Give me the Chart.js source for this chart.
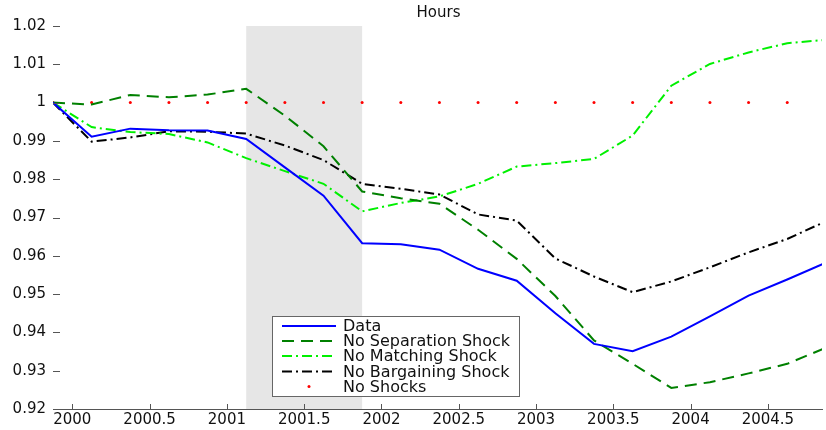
<!DOCTYPE html>
<html>
<head>
<meta charset="utf-8">
<title>Hours</title>
<script src="https://cdn.jsdelivr.net/npm/chart.js@4/dist/chart.umd.min.js"></script>
<style>
  html, body { margin: 0; padding: 0; background: #fff; }
  #hoursChart { display: block; }
</style>
</head>
<body>
<canvas id="hoursChart" width="826" height="430"></canvas>
<script>
// quarterly observations
const quarters = [1999.875, 2000.125, 2000.375, 2000.625, 2000.875, 2001.125, 2001.375,
  2001.625, 2001.875, 2002.125, 2002.375, 2002.625, 2002.875, 2003.125, 2003.375,
  2003.625, 2003.875, 2004.125, 2004.375, 2004.625, 2004.875];

const dataHours = [1.0, 0.9911, 0.9932, 0.9928, 0.9927, 0.9905, 0.9831, 0.9757, 0.9633,
  0.9630, 0.9616, 0.9566, 0.9535, 0.9450, 0.9370, 0.9351, 0.9389, 0.9442, 0.9496, 0.9538, 0.9582];
const noSeparation = [1.0, 0.9995, 1.0020, 1.0014, 1.0021, 1.0036, 0.9966, 0.9886, 0.9768,
  0.9750, 0.9736, 0.9668, 0.9592, 0.9495, 0.9379, 0.9318, 0.9255, 0.9270, 0.9293, 0.9318, 0.9360];
const noMatching = [1.0, 0.9936, 0.9923, 0.9918, 0.9896, 0.9855, 0.9821, 0.9788, 0.9716,
  0.9738, 0.9755, 0.9788, 0.9833, 0.9842, 0.9853, 0.9914, 1.0044, 1.0101, 1.0131, 1.0155, 1.0164];
const noBargaining = [1.0, 0.9898, 0.9909, 0.9925, 0.9924, 0.9919, 0.9888, 0.9850, 0.9788,
  0.9775, 0.9760, 0.9708, 0.9692, 0.9593, 0.9546, 0.9505, 0.9533, 0.9570, 0.9609, 0.9644, 0.9690];
const noShocks = [1, 1, 1, 1, 1, 1, 1, 1, 1, 1, 1, 1, 1, 1, 1, 1, 1, 1, 1, 1, 1];

const xTicks = [2000, 2000.5, 2001, 2001.5, 2002, 2002.5, 2003, 2003.5, 2004, 2004.5];
const xTickLabels = ['2000', '2000.5', '2001', '2001.5', '2002', '2002.5', '2003', '2003.5', '2004', '2004.5'];
const yTicks = [0.92, 0.93, 0.94, 0.95, 0.96, 0.97, 0.98, 0.99, 1, 1.01, 1.02];
const yTickLabels = ['0.92', '0.93', '0.94', '0.95', '0.96', '0.97', '0.98', '0.99', '1', '1.01', '1.02'];

// recession band
const recession = [2001.125, 2001.875];

const FONT = '"DejaVu Sans", sans-serif';

function pts(values) {
  return values.map((v, i) => ({ x: quarters[i], y: v }));
}

// grey recession band behind the lines
const bandPlugin = {
  id: 'band',
  beforeDatasetsDraw(chart) {
    const { ctx, chartArea, scales } = chart;
    const x0 = scales.x.getPixelForValue(recession[0]);
    const x1 = scales.x.getPixelForValue(recession[1]);
    ctx.save();
    ctx.fillStyle = '#e6e6e6';
    ctx.fillRect(x0, chartArea.top, x1 - x0, chartArea.bottom - chartArea.top);
    ctx.restore();
  }
};

// title, inward ticks and the legend box
const decorPlugin = {
  id: 'decor',
  afterDraw(chart) {
    const { ctx, chartArea, scales } = chart;
    ctx.save();
    ctx.fillStyle = '#111';
    ctx.font = '15px ' + FONT;
    ctx.textAlign = 'center';
    ctx.textBaseline = 'middle';
    ctx.fillText('Hours', (chartArea.left + chartArea.right) / 2 + 1, 13);

    ctx.strokeStyle = '#555';
    ctx.lineWidth = 1;
    ctx.beginPath();
    yTicks.forEach(v => {
      const y = Math.round(scales.y.getPixelForValue(v)) + 0.5;
      ctx.moveTo(chartArea.left, y);
      ctx.lineTo(chartArea.left + 7, y);
    });
    xTicks.forEach(v => {
      const x = Math.round(scales.x.getPixelForValue(v)) + 0.5;
      ctx.moveTo(x, chartArea.bottom);
      ctx.lineTo(x, chartArea.bottom - 5);
    });
    ctx.stroke();

    // legend
    const bx = 272, by = 316, bw = 247, bh = 80;
    ctx.fillStyle = '#fff';
    ctx.fillRect(bx, by, bw, bh);
    ctx.strokeStyle = '#666';
    ctx.strokeRect(bx + 0.5, by + 0.5, bw, bh);
    const rowY = [326, 341, 356, 371.5, 386.5];
    chart.data.datasets.forEach((ds, i) => {
      const y = rowY[i];
      ctx.save();
      if (ds.showLine === false) {
        ctx.fillStyle = ds.pointBackgroundColor;
        ctx.beginPath();
        ctx.arc(309, y, 1.5, 0, Math.PI * 2);
        ctx.fill();
      } else {
        ctx.strokeStyle = ds.borderColor;
        ctx.lineWidth = ds.borderWidth;
        ctx.setLineDash(ds.borderDash || []);
        ctx.beginPath();
        ctx.moveTo(282, y);
        ctx.lineTo(336, y);
        ctx.stroke();
      }
      ctx.restore();
      ctx.fillStyle = '#111';
      ctx.font = '16px ' + FONT;
      ctx.textAlign = 'left';
      ctx.textBaseline = 'middle';
      ctx.fillText(ds.label, 343, y + 1);
    });
    ctx.restore();
  }
};

const chart = new Chart(document.getElementById('hoursChart'), {
  type: 'line',
  data: {
    datasets: [
      { label: 'Data', data: pts(dataHours), borderColor: '#0000ff', borderWidth: 2,
        pointRadius: 0, tension: 0 },
      { label: 'No Separation Shock', data: pts(noSeparation), borderColor: '#008000', borderWidth: 2,
        borderDash: [12, 7], pointRadius: 0, tension: 0 },
      { label: 'No Matching Shock', data: pts(noMatching), borderColor: '#00f000', borderWidth: 2,
        borderDash: [10, 4, 2, 4], pointRadius: 0, tension: 0 },
      { label: 'No Bargaining Shock', data: pts(noBargaining), borderColor: '#000000', borderWidth: 2,
        borderDash: [10, 4, 2, 4], pointRadius: 0, tension: 0 },
      { label: 'No Shocks', data: pts(noShocks), showLine: false, borderColor: '#ff0000',
        pointBackgroundColor: '#ff0000', pointBorderWidth: 0, pointRadius: 1.5 }
    ]
  },
  options: {
    responsive: false,
    animation: false,
    devicePixelRatio: 1,
    layout: { padding: { top: 26, right: 0, left: 0, bottom: 0 } },
    plugins: {
      legend: { display: false },
      title: { display: false },
      tooltip: { enabled: false }
    },
    scales: {
      x: {
        type: 'linear',
        min: 1999.875,
        max: 2004.85,
        grid: { display: false, drawTicks: false },
        border: { display: true, color: '#555', width: 1 },
        afterBuildTicks: scale => { scale.ticks = xTicks.map(v => ({ value: v })); },
        afterFit: scale => { scale.height = 21; },
        ticks: {
          autoSkip: false,
          maxRotation: 0,
          padding: 2,
          color: '#111',
          font: { family: FONT, size: 15 },
          callback: (v) => xTickLabels[xTicks.indexOf(v)]
        }
      },
      y: {
        min: 0.92,
        max: 1.02,
        grid: { display: false, drawTicks: false },
        border: { display: false },
        afterBuildTicks: scale => { scale.ticks = yTicks.map(v => ({ value: v })); },
        afterFit: scale => { scale.width = 53; },
        ticks: {
          autoSkip: false,
          padding: 7,
          color: '#111',
          font: { family: FONT, size: 15 },
          callback: (v) => yTickLabels[yTicks.indexOf(v)]
        }
      }
    }
  },
  plugins: [bandPlugin, decorPlugin]
});
</script>
</body>
</html>
